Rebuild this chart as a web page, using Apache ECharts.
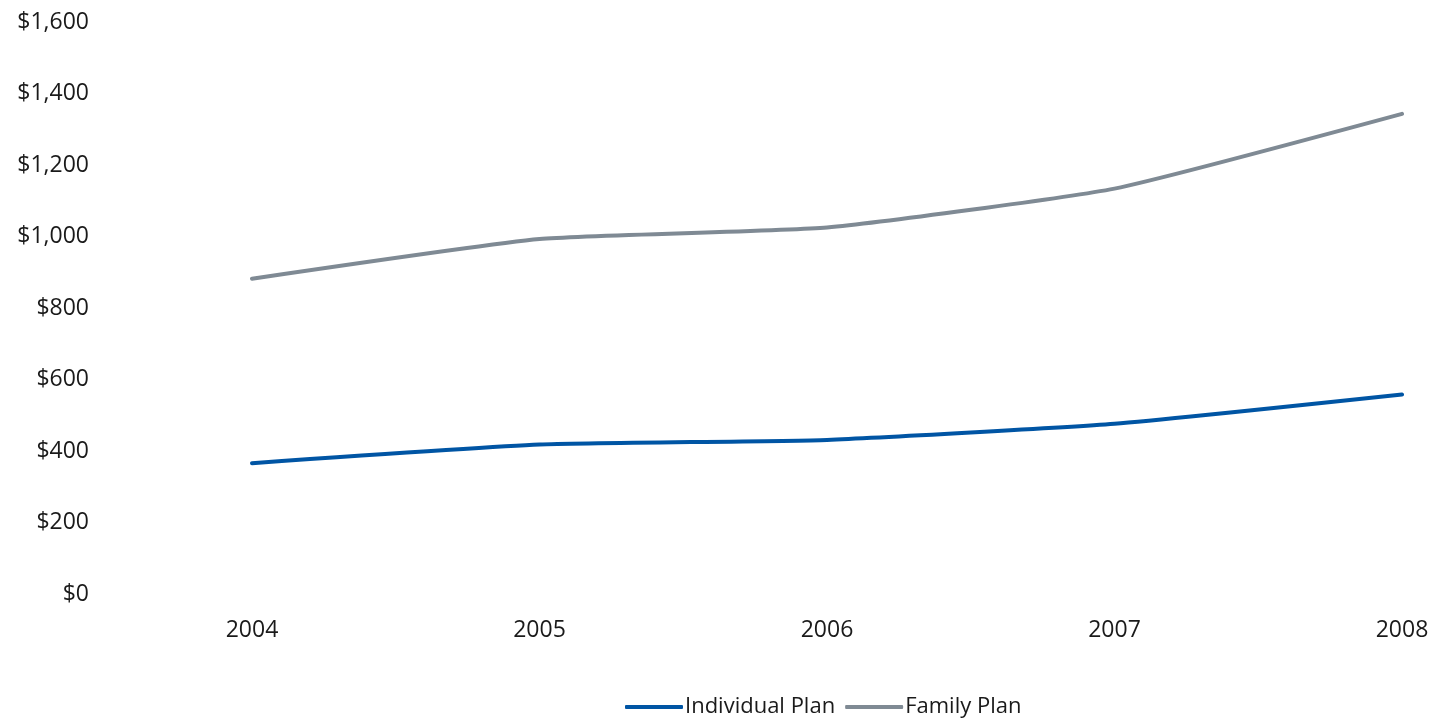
<!DOCTYPE html>
<html>
<head>
<meta charset="utf-8">
<script src="https://cdn.jsdelivr.net/npm/echarts@6/dist/echarts.min.js"></script>
<style>
  html, body { margin: 0; padding: 0; background: #fff; }
  #chart { width: 1432px; height: 718px; }
</style>
</head>
<body>
<div id="chart"></div>
<script>
// Annual premium cost by plan type
const years = ['2004', '2005', '2006', '2007', '2008'];
const individualPlan = [366, 418, 431, 476, 558];
const familyPlan = [882, 993, 1025, 1134, 1343];
const yTicks = [0, 200, 400, 600, 800, 1000, 1200, 1400, 1600];

const FONT = '"Open Sans", "Noto Sans", sans-serif';
const TEXT = '#1a1a1a';

const chart = echarts.init(document.getElementById('chart'));
chart.setOption({
  animation: false,
  textStyle: { fontFamily: FONT },
  grid: { left: 252, right: 30, top: 22, bottom: 124, containLabel: false },
  legend: {
    top: 691,
    left: 620,
    icon: 'roundRect',
    itemWidth: 58,
    itemHeight: 4,
    itemGap: 10,
    textStyle: { fontFamily: FONT, fontSize: 22, color: TEXT, padding: [0, 0, 0, -3] },
    data: ['Individual Plan', 'Family Plan']
  },
  xAxis: {
    type: 'category',
    data: years,
    boundaryGap: false,
    axisLine: { show: false },
    axisTick: { show: false },
    axisLabel: { fontFamily: FONT, fontSize: 23, color: TEXT, margin: 25 }
  },
  yAxis: {
    type: 'value',
    min: yTicks[0],
    max: yTicks[yTicks.length - 1],
    interval: 200,
    splitLine: { show: false },
    axisLine: { show: false },
    axisTick: { show: false },
    axisLabel: {
      fontFamily: FONT, fontSize: 23, color: TEXT, margin: 163,
      formatter: v => '$' + v.toLocaleString('en-US')
    }
  },
  series: [
    {
      name: 'Individual Plan',
      type: 'line',
      data: individualPlan,
      smooth: 0.15,
      showSymbol: false,
      color: '#0055a4',
      lineStyle: { width: 4, color: '#0055a4', cap: 'round' }
    },
    {
      name: 'Family Plan',
      type: 'line',
      data: familyPlan,
      smooth: 0.15,
      showSymbol: false,
      color: '#7f8a94',
      lineStyle: { width: 4, color: '#7f8a94', cap: 'round' }
    }
  ]
});
</script>
</body>
</html>
